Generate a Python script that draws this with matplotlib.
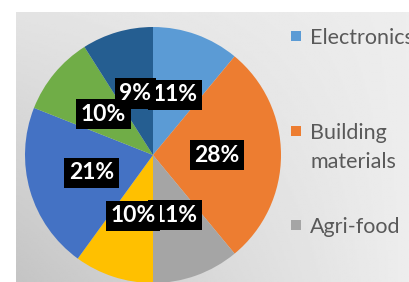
import numpy as np
import matplotlib.pyplot as plt
from matplotlib.patches import Rectangle

# slice shares (%), clockwise from 12 o'clock
shares = [11, 28, 11, 10, 21, 10, 9]
slice_colors = ['#5B9BD5', '#ED7D31', '#A5A5A5', '#FFC000', '#4472C4', '#70AD47', '#255E91']
legend_labels = ['Electronics', 'Building\nmaterials', 'Agri-food']

W, H = 409, 282
fig = plt.figure(figsize=(W/100, H/100), dpi=100)
fig.patch.set_facecolor('white')

# gray gradient panel behind the chart
bg = fig.add_axes([16/W, 0, 1-16/W, 1-12/H])
xn, yn = np.meshgrid(np.linspace(0, 1, 200), np.linspace(0, 1, 150))
grad = 0.93 - 0.12*(1-xn)*yn - 0.04*(1-xn)
bg.imshow(grad, cmap='gray', vmin=0, vmax=1, aspect='auto', extent=[0, 1, 1, 0])
bg.axis('off')

# pie: centre (153,155) px, radius 128 px
cx, cy, r = 153, 155, 128
ax = fig.add_axes([(cx-r)/W, (H-cy-r)/H, 2*r/W, 2*r/H])
wedges, texts, autotexts = ax.pie(
    shares, colors=slice_colors, startangle=90, counterclock=False,
    autopct='%1.0f%%', pctdistance=0.5,
    wedgeprops=dict(linewidth=0),
    textprops=dict(color='white', fontsize=16.5, fontweight='bold', family='Lato'))
for w in wedges:
    w.set_clip_on(False)
for t in autotexts:
    t.set_bbox(dict(boxstyle='square,pad=0.2', facecolor='black', edgecolor='none'))
ax.set_xlim(-1, 1)
ax.set_ylim(-1, 1)
ax.set_aspect('equal')
ax.axis('off')

# legend drawn by hand so the marker sits on the first text line
legend_y = [36, 131, 225]
for lab, col, y in zip(legend_labels, slice_colors, legend_y):
    fig.patches.append(Rectangle((291/W, 1-(y+5)/H), 10/W, 10/H,
                                 transform=fig.transFigure, facecolor=col, edgecolor='none'))
    fig.text(310/W, 1-(y-8)/H, lab, ha='left', va='top', fontsize=15.5, family='Lato',
             color='#595959', linespacing=1.55)

fig.savefig('out.png', dpi=100)
